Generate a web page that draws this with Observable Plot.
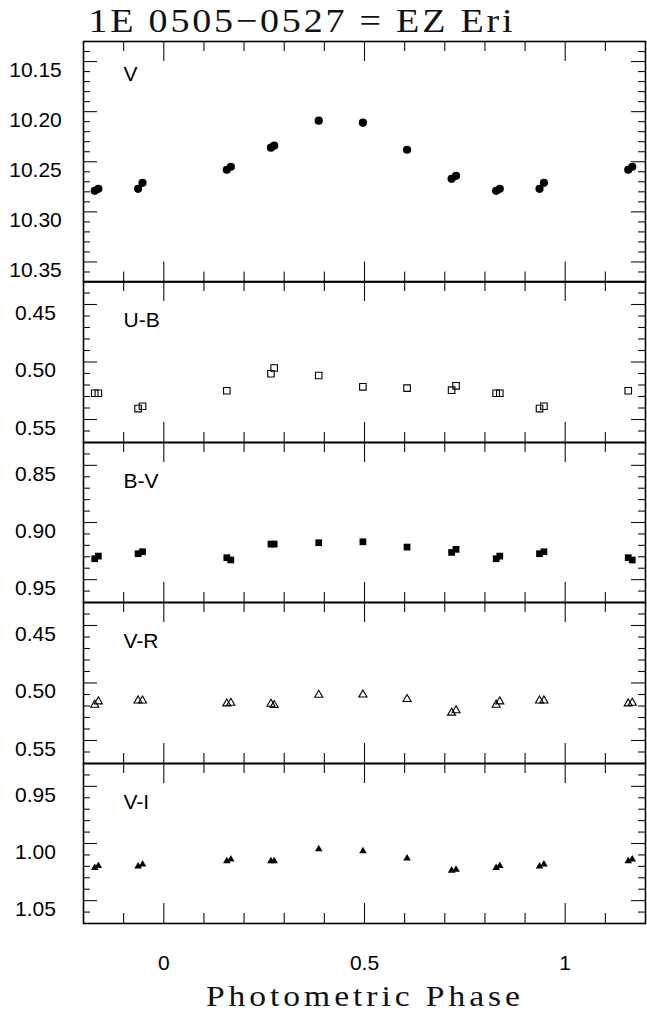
<!DOCTYPE html>
<html>
<head>
<meta charset="utf-8">
<script src="https://cdn.jsdelivr.net/npm/d3@7"></script>
<script src="https://cdn.jsdelivr.net/npm/@observablehq/plot@0.6"></script>
<style>
  body { margin: 0; background: #fff; }
  #fig { position: relative; width: 647px; height: 1013px; overflow: hidden; background: #fff; }
  #fig svg { position: absolute; left: 0; }
</style>
</head>
<body>
<div id="fig"></div>
<script>
// Photometric phase of each of the 13 observations (one cycle, 0..1)
const phase = [0.157, 0.167, 0.267, 0.275, 0.386, 0.496, 0.606, 0.717, 0.728, 0.828, 0.837, 0.936, 0.947];

// V magnitude and colour indices at each phase (null = no measurement)
const magV  = [10.258, 10.255, 10.236, 10.234, 10.209, 10.211, 10.238, 10.267, 10.264, 10.279, 10.277, 10.277, 10.271];
const colUB = [0.525, null, 0.5102, 0.5052, 0.5117, 0.5216, 0.5227, 0.5245, 0.5207, 0.5272, 0.5272, 0.5405, 0.5385];
const colBV = [0.9308, 0.9328, 0.9189, 0.9189, 0.9177, 0.9169, 0.9215, 0.9262, 0.9235, 0.9317, 0.9294, 0.9273, 0.9256];
const colVR = [0.5179, 0.5173, 0.5182, 0.5193, 0.5104, 0.5101, 0.5141, 0.5259, 0.5239, 0.5190, 0.5161, 0.5153, 0.5153];
const colVI = [1.0153, 1.0138, 1.0153, 1.0153, 1.0049, 1.0066, 1.0130, 1.0236, 1.0228, 1.0213, 1.0196, 1.0199, 1.0182];

// Labelled tick values
const xTickLabels = [0, 0.5, 1];
const vTicks  = [10.15, 10.20, 10.25, 10.30, 10.35];
const ubTicks = [0.45, 0.50, 0.55];
const bvTicks = [0.85, 0.90, 0.95];
const vrTicks = [0.45, 0.50, 0.55];
const viTicks = [0.95, 1.00, 1.05];

const title = "1E 0505\u22120527 = EZ Eri";
const xTitle = "Photometric Phase";

// Fold the phases so the curve is shown from -0.2 to 1.2
const xDomain = [-0.2, 1.2];
const rows = [];
phase.forEach((p, i) => {
  for (const k of [-1, 0, 1]) {
    const x = p + k;
    if (x >= xDomain[0] && x <= xDomain[1]) rows.push({x, i});
  }
});

const W = 647, ML = 83, MR = 2;
const innerW = W - ML - MR;
const sans = "'Liberation Sans', Arial, Helvetica, sans-serif";
const serif = "'Liberation Serif', 'Times New Roman', serif";

const xMinor = d3.range(-1, 12).map(d => d / 10).filter(d => !xTickLabels.includes(d));

const panels = [
  {name: "V",   values: magV,  top: 40.5, h: 240.5, domain: [10.13, 10.37], ticks: vTicks,  symbol: "circle",   filled: true,  r: 4.1, labelDy: 39.5},
  {name: "U-B", values: colUB, top: 281, h: 161,   domain: [0.43, 0.57],   ticks: ubTicks, symbol: "square",   filled: false, r: 3.7, labelDy: 45.7},
  {name: "B-V", values: colBV, top: 442, h: 160,   domain: [0.83, 0.97],   ticks: bvTicks, symbol: "square",   filled: true,  r: 3.8, labelDy: 45.7},
  {name: "V-R", values: colVR, top: 602, h: 161,   domain: [0.43, 0.57],   ticks: vrTicks, symbol: "triangle", filled: false, r: 3.0, labelDy: 45.7},
  {name: "V-I", values: colVI, top: 763, h: 160,   domain: [0.93, 1.07],   ticks: viTicks, symbol: "triangle", filled: true,  r: 2.8, labelDy: 45.7}
];

const fig = document.getElementById("fig");
const pad = 10;

panels.forEach((pn, idx) => {
  const last = idx === panels.length - 1;
  const mb = last ? 70 : pad;
  const [lo, hi] = pn.domain;
  const yMinor = d3.range(Math.round(lo * 100) + 1, Math.round(hi * 100))
    .map(d => d / 100)
    .filter(d => !pn.ticks.some(t => Math.abs(t - d) < 1e-6));
  const pts = rows.filter(d => pn.values[d.i] != null);
  const tickStyle = {stroke: "#111", strokeWidth: 1.1};

  const marks = [
    // inward ticks on all four sides
    Plot.tickX(xMinor, {x: d => d, insetBottom: pn.h - 10, ...tickStyle}),
    Plot.tickX(xMinor, {x: d => d, insetTop: pn.h - 10, ...tickStyle}),
    Plot.tickX(xTickLabels, {x: d => d, insetBottom: pn.h - 20, ...tickStyle}),
    Plot.tickX(xTickLabels, {x: d => d, insetTop: pn.h - 20, ...tickStyle}),
    Plot.tickY(yMinor, {y: d => d, insetRight: innerW - 7, ...tickStyle}),
    Plot.tickY(yMinor, {y: d => d, insetLeft: innerW - 7, ...tickStyle}),
    Plot.tickY(pn.ticks, {y: d => d, insetRight: innerW - 14, ...tickStyle}),
    Plot.tickY(pn.ticks, {y: d => d, insetLeft: innerW - 14, ...tickStyle}),
    Plot.frame({stroke: "#000", strokeWidth: 1.6}),
    Plot.dot(pts, {
      x: "x", y: d => pn.values[d.i], symbol: pn.symbol, r: pn.r,
      fill: pn.filled ? "#000" : "none", stroke: pn.filled ? "none" : "#000", strokeWidth: 1.1
    }),
    Plot.text(pn.ticks, {
      y: d => d, text: d => d3.format(".2f")(d), frameAnchor: "left",
      dx: -48, dy: 8.5, textAnchor: "middle", fontSize: 21, fill: "#000"
    }),
    Plot.text([pn.name], {
      text: d => d, frameAnchor: "top-left", dx: 40, dy: pn.labelDy,
      lineAnchor: "bottom", textAnchor: "start", fontSize: 21, fill: "#000"
    })
  ];
  if (last) {
    marks.push(Plot.text(xTickLabels, {
      x: d => d, text: d => d3.format("")(d), frameAnchor: "bottom",
      dy: 39.5, lineAnchor: "middle", fontSize: 21, fill: "#000"
    }));
  }

  const svg = Plot.plot({
    width: W,
    height: pn.h + pad + mb,
    marginLeft: ML, marginRight: MR, marginTop: pad, marginBottom: mb,
    x: {domain: xDomain, axis: null},
    y: {domain: pn.domain, reverse: true, axis: null},
    style: {background: "transparent", overflow: "visible", fontFamily: sans, fontSize: "21px", color: "#000"},
    marks
  });
  svg.style.position = "absolute";
  svg.style.top = (pn.top - pad) + "px";
  svg.style.left = "0px";
  fig.appendChild(svg);
});

// Title and x-axis caption in a widened serif face
const over = d3.select(fig).append("svg")
  .attr("width", W).attr("height", 1013)
  .style("position", "absolute").style("top", "0px").style("left", "0px")
  .style("pointer-events", "none");

function serifLine(str, x, y, length, size, sx) {
  over.append("text")
    .attr("transform", `translate(${x},${y}) scale(${sx},1)`)
    .attr("textLength", length / sx).attr("lengthAdjust", "spacing")
    .attr("font-family", serif).attr("font-size", size).attr("fill", "#111")
    .text(str);
}
serifLine(title, 88.5, 31.7, 424, 34, 1.12);
serifLine(xTitle, 206, 1006, 314, 30, 1.12);
</script>
</body>
</html>
